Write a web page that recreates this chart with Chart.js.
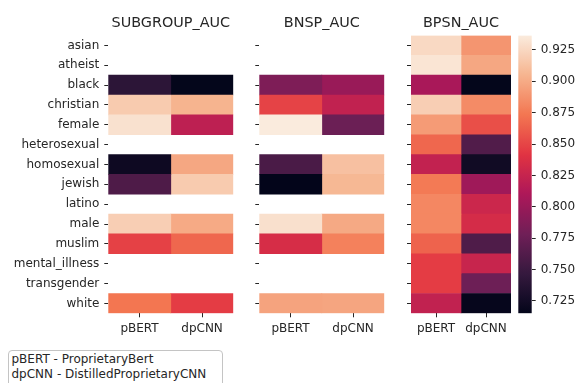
<!DOCTYPE html>
<html>
<head>
<meta charset="utf-8">
<script src="https://cdn.jsdelivr.net/npm/chart.js@4.4.1/dist/chart.umd.min.js"></script>
<style>
  html, body { margin: 0; padding: 0; background: #fff; width: 578px; height: 383px; overflow: hidden; }
  body { position: relative; font-family: 'DejaVu Sans', sans-serif; }
  .panel { position: absolute; top: 0; height: 383px; }
  .panel canvas { display: block; }
  #legend {
    position: absolute; left: 7.5px; top: 349.5px; width: 215px; height: 48px;
    box-sizing: border-box; border: 1px solid #c4c4c4; border-radius: 4px;
    padding: 1.5px 0 0 3px; font-size: 12px; line-height: 14.5px; color: #262626;
    white-space: nowrap; background: #fff;
  }
</style>
</head>
<body>
<div class="panel" style="left:0;width:240px"><canvas id="subgroup" width="240" height="383"></canvas></div>
<div class="panel" style="left:240px;width:150px"><canvas id="bnsp" width="150" height="383"></canvas></div>
<div class="panel" style="left:390px;width:125px"><canvas id="bpsn" width="125" height="383"></canvas></div>
<div class="panel" style="left:510px;width:68px"><canvas id="cbar" width="68" height="383"></canvas></div>
<div id="legend">pBERT - ProprietaryBert<br>dpCNN - DistilledProprietaryCNN</div>
<script>
// Identity groups (rows) and models (columns)
const groups = ['asian', 'atheist', 'black', 'christian', 'female', 'heterosexual', 'homosexual',
                'jewish', 'latino', 'male', 'muslim', 'mental_illness', 'transgender', 'white'];
const models = ['pBERT', 'dpCNN'];
const metricTitles = ['SUBGROUP_AUC', 'BNSP_AUC', 'BPSN_AUC'];

// AUC scores per group; null where the group has no subgroup scores
const subgroupPBERT = [null, null, 0.741, 0.918, 0.931, null, 0.722, 0.760, null, 0.920, 0.848, null, null, 0.873];
const subgroupDPCNN = [null, null, 0.716, 0.905, 0.820, null, 0.898, 0.918, null, 0.900, 0.866, null, null, 0.846];
const bnspPBERT     = [null, null, 0.786, 0.849, 0.9365, null, 0.758, 0.7152, null, 0.930, 0.835, null, null, 0.896];
const bnspDPCNN     = [null, null, 0.800, 0.822, 0.776, null, 0.912, 0.907, null, 0.899, 0.879, null, null, 0.897];
const bpsnPBERT     = [0.926, 0.933, 0.808, 0.920, 0.892, 0.866, 0.823, 0.875, 0.882, 0.882, 0.864, 0.846, 0.846, 0.822];
const bpsnDPCNN     = [0.889, 0.898, 0.716, 0.884, 0.855, 0.762, 0.724, 0.803, 0.828, 0.834, 0.761, 0.826, 0.777, 0.717];

// Colour bar tick labels
const cbarTicks = [0.725, 0.750, 0.775, 0.800, 0.825, 0.850, 0.875, 0.900, 0.925];

const allValues = [subgroupPBERT, subgroupDPCNN, bnspPBERT, bnspDPCNN, bpsnPBERT, bpsnDPCNN]
  .flat().filter(v => v !== null);
const vmin = Math.min(...allValues);
const vmax = Math.max(...allValues);

// "rocket" colormap anchor colours
const rocketStops = [
  [0.000, [3, 5, 26]],
  [0.143, [53, 25, 62]],
  [0.286, [112, 31, 87]],
  [0.429, [173, 23, 89]],
  [0.571, [225, 51, 66]],
  [0.714, [243, 118, 81]],
  [0.857, [246, 180, 143]],
  [1.000, [250, 235, 221]]
];
function rocket(t) {
  t = Math.max(0, Math.min(1, t));
  for (let i = 1; i < rocketStops.length; i++) {
    const [t1, c1] = rocketStops[i];
    const [t0, c0] = rocketStops[i - 1];
    if (t <= t1) {
      const f = (t - t0) / (t1 - t0);
      const c = c0.map((v, k) => Math.round(v + (c1[k] - v) * f));
      return `rgb(${c[0]},${c[1]},${c[2]})`;
    }
  }
  return 'rgb(250,235,221)';
}
const colorOf = v => v === null ? 'rgba(0,0,0,0)' : rocket((v - vmin) / (vmax - vmin));

Chart.defaults.font.family = "'DejaVu Sans', sans-serif";
Chart.defaults.font.size = 12;
Chart.defaults.color = '#262626';
Chart.defaults.animation = false;
Chart.defaults.events = [];
Chart.defaults.plugins.legend.display = false;
Chart.defaults.plugins.tooltip.enabled = false;

const tickGrid = { drawOnChartArea: false, drawTicks: true, tickLength: 4, color: '#262626', lineWidth: 1 };

function heatmap(id, title, colA, colB, showLabels, yWidth, rightPad) {
  const cell = (vals, col) => ({
    data: vals.map(v => v === null ? null : [col, col + 1]),
    backgroundColor: vals.map(colorOf),
    borderWidth: 0,
    grouped: false,
    barPercentage: 1,
    categoryPercentage: 1
  });
  return new Chart(document.getElementById(id), {
    type: 'bar',
    data: { labels: groups, datasets: [cell(colA, 0), cell(colB, 1)] },
    options: {
      responsive: false,
      indexAxis: 'y',
      layout: { padding: { left: 0, right: rightPad, top: 0, bottom: 39.7 } },
      scales: {
        y: {
          type: 'category',
          grid: Object.assign({ offset: false }, tickGrid),
          border: { display: false },
          ticks: { display: showLabels, padding: 5, autoSkip: false, font: { size: 12 } },
          afterFit(s) { s.width = yWidth; }
        },
        x: {
          type: 'linear', position: 'bottom', min: 0, max: 2,
          grid: tickGrid,
          border: { display: false },
          ticks: { padding: 4, maxRotation: 0, autoSkip: false, font: { size: 12 },
                   callback: (v, i) => models[i] },
          afterBuildTicks(s) { s.ticks = [{ value: 0.5 }, { value: 1.5 }]; },
          afterFit(s) { s.height = 30; }
        },
        xTop: {
          type: 'linear', position: 'top', min: 0, max: 2,
          grid: { display: false, drawTicks: false },
          border: { display: false },
          ticks: { display: false },
          title: { display: true, text: title, color: '#262626',
                   font: { size: 14.4 }, padding: { top: 14.6, bottom: 0 } },
          afterFit(s) { s.height = 35.5; }
        }
      }
    }
  });
}

heatmap('subgroup', metricTitles[0], subgroupPBERT, subgroupDPCNN, true, 108.3, 6.7);
heatmap('bnsp', metricTitles[1], bnspPBERT, bnspDPCNN, false, 19.3, 5.7);
heatmap('bpsn', metricTitles[2], bpsnPBERT, bpsnDPCNN, false, 21, 4);

// Colour bar: one floating bar spanning the value range, filled with the colormap
new Chart(document.getElementById('cbar'), {
  type: 'bar',
  data: {
    labels: [''],
    datasets: [{
      data: [[vmin, vmax]],
      borderWidth: 0,
      barPercentage: 1,
      categoryPercentage: 1,
      backgroundColor(ctx) {
        const area = ctx.chart.chartArea;
        if (!area) return null;
        const g = ctx.chart.ctx.createLinearGradient(0, area.bottom, 0, area.top);
        for (let i = 0; i <= 60; i++) g.addColorStop(i / 60, rocket(i / 60));
        return g;
      }
    }]
  },
  options: {
    responsive: false,
    layout: { padding: { left: 8.3, right: 0, top: 35.5, bottom: 69.7 } },
    scales: {
      x: { display: false },
      y: {
        type: 'linear', position: 'right', min: vmin, max: vmax,
        grid: tickGrid,
        border: { display: false },
        ticks: { padding: 5, font: { size: 12 }, callback: v => v.toFixed(3) },
        afterBuildTicks(s) { s.ticks = cbarTicks.map(v => ({ value: v })); },
        afterFit(s) { s.width = 46.3; }
      }
    }
  }
});
</script>
</body>
</html>
